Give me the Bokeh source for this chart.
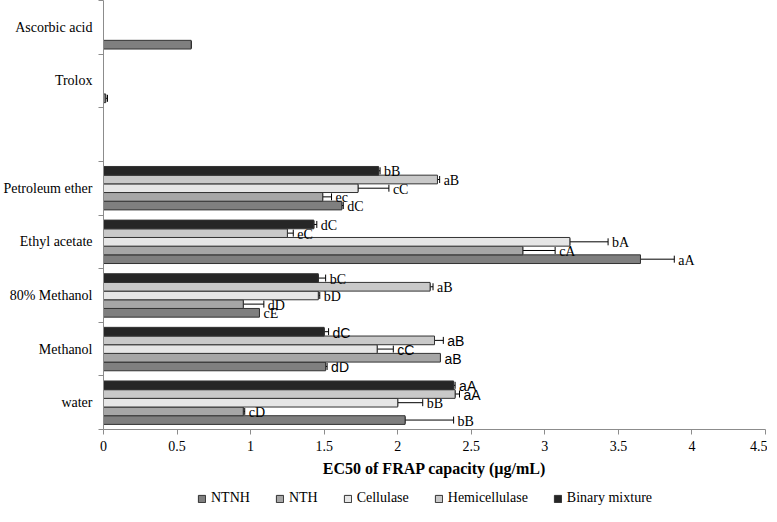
import numpy as np
from bokeh.plotting import figure
from bokeh.layouts import column
from bokeh.models import (ColumnDataSource, FixedTicker, Whisker, TeeHead, Legend,
                          LegendItem, Range1d, NumeralTickFormatter)
from bokeh.embed import file_html
from bokeh.resources import INLINE
from bokeh.core.properties import value

# ---------------- data ----------------
categories = ["water", "Methanol", "80% Methanol", "Ethyl acetate", "Petroleum ether",
              "", "Trolox", "Ascorbic acid"]
extracts = ["water", "Methanol", "80% Methanol", "Ethyl acetate", "Petroleum ether"]
series = ["NTNH", "NTH", "Cellulase", "Hemicellulase", "Binary mixture"]

ntnh = [2.05, 1.51, 1.06, 3.65, 1.62]
ntnh_err = [0.33, 0.01, 0.0, 0.23, 0.01]
nth = [0.95, 2.29, 0.95, 2.85, 1.49]
nth_err = [0.01, 0.0, 0.14, 0.22, 0.06]
cellulase = [2.00, 1.86, 1.46, 3.17, 1.73]
cellulase_err = [0.17, 0.11, 0.01, 0.26, 0.21]
hemicellulase = [2.39, 2.25, 2.22, 1.25, 2.27]
hemicellulase_err = [0.03, 0.06, 0.02, 0.04, 0.015]
binary = [2.38, 1.50, 1.46, 1.43, 1.87]
binary_err = [0.01, 0.03, 0.05, 0.02, 0.01]

ntnh_lab = ["bB", "dD", "cE", "aA", "dC"]
nth_lab = ["cD", "aB", "dD", "cA", "ec"]
cellulase_lab = ["bB", "cC", "bD", "bA", "cC"]
hemicellulase_lab = ["aA", "aB", "aB", "eC", "aB"]
binary_lab = ["aA", "dC", "bC", "dC", "bB"]

standards = ["Trolox", "Ascorbic acid"]
standard_values = [0.015, 0.596]
standard_err = [0.012, 0.0]

x_ticks = [0, 0.5, 1, 1.5, 2, 2.5, 3, 3.5, 4, 4.5]

# ---------------- styles ----------------
colors = ["#7f7f7f", "#a6a6a6", "#e6e6e6", "#c9c9c9", "#262626"]
offsets = [-0.324, -0.162, 0.0, 0.162, 0.324]
bar_h = 0.162
# labels that appear in a sans-serif face in the reference (extract, series)
sans_labels = {("water", "Hemicellulase"), ("water", "Binary mixture"),
               ("Methanol", "NTNH"), ("Methanol", "NTH"), ("Methanol", "Cellulase"),
               ("Methanol", "Hemicellulase"), ("Methanol", "Binary mixture")}

SERIF = "Liberation Serif"
SANS = "Liberation Sans"
W = 767

p = figure(width=W, height=479, output_backend="svg", toolbar_location=None,
           x_range=Range1d(0, 4.5), y_range=Range1d(0, len(categories)),
           min_border_left=0, min_border_right=2, min_border_top=0, min_border_bottom=0)
p.outline_line_color = None
p.xgrid.visible = False
p.ygrid.visible = False

lg = figure(width=W, height=27, output_backend="svg", toolbar_location=None,
            x_axis_location=None, y_axis_location=None,
            min_border_left=0, min_border_right=0, min_border_top=0, min_border_bottom=0)
lg.outline_line_color = None
lg.xgrid.visible = False
lg.ygrid.visible = False

vals = [ntnh, nth, cellulase, hemicellulase, binary]
errs = [ntnh_err, nth_err, cellulase_err, hemicellulase_err, binary_err]
labs = [ntnh_lab, nth_lab, cellulase_lab, hemicellulase_lab, binary_lab]

legend_items = []
cat_index = {c: i for i, c in enumerate(categories)}
for s, name in enumerate(series):
    ys = np.array([cat_index[c] + 0.5 + offsets[s] for c in extracts])
    v = np.array(vals[s])
    e = np.array(errs[s])
    src = ColumnDataSource(dict(y=ys, v=v, up=v + e))
    p.hbar(y="y", right="v", left=0, height=bar_h, source=src,
           fill_color=colors[s], line_color="#333333", line_width=1)
    # legend swatch renderer in the legend strip (hidden, only its key is shown)
    rl = lg.hbar(y="y", right="v", left=0, height=bar_h, source=src,
                 fill_color=colors[s], line_color="#333333", line_width=1, visible=False)
    legend_items.append(LegendItem(label=name, renderers=[rl]))
    p.add_layout(Whisker(base="y", lower="v", upper="up", dimension="width", source=src,
                         line_color="black", line_width=1,
                         lower_head=TeeHead(size=7, line_color="black", line_width=1),
                         upper_head=TeeHead(size=7, line_color="black", line_width=1)))
    is_sans = [(c, name) in sans_labels for c in extracts]
    for want_sans, font in ((False, SERIF), (True, SANS)):
        idx = [i for i, f in enumerate(is_sans) if f == want_sans]
        if not idx:
            continue
        tsrc = ColumnDataSource(dict(x=(v + e)[idx], y=ys[idx],
                                     t=[labs[s][i] for i in idx]))
        p.text(x="x", y="y", text="t", source=tsrc, x_offset=4, y_offset=1,
               text_font=value(font), text_font_size="14px", text_color="black",
               text_align="left", text_baseline="middle")

# standards (NTNH position)
sy = np.array([cat_index[c] + 0.5 + offsets[0] for c in standards])
sv = np.array(standard_values)
se = np.array(standard_err)
ssrc = ColumnDataSource(dict(y=sy, v=sv, up=sv + se))
p.hbar(y="y", right="v", left=0, height=bar_h, source=ssrc,
       fill_color=colors[0], line_color="#333333", line_width=1)
p.add_layout(Whisker(base="y", lower="v", upper="up", dimension="width", source=ssrc,
                     line_color="black", line_width=1,
                     lower_head=TeeHead(size=7, line_color="black", line_width=1),
                     upper_head=TeeHead(size=7, line_color="black", line_width=1)))

# ---------------- axes ----------------
xa = p.xaxis[0]
xa.ticker = FixedTicker(ticks=x_ticks, minor_ticks=[])
xa.formatter = NumeralTickFormatter(format="0.[0]")
xa.major_tick_out = 5
xa.major_tick_in = 0
xa.axis_line_color = "#8c8c8c"
xa.major_tick_line_color = "#8c8c8c"
xa.major_label_text_font = SERIF
xa.major_label_text_font_size = "14px"
xa.major_label_text_color = "black"
xa.major_label_standoff = 6
xa.axis_label = "EC50 of FRAP capacity (µg/mL)"
xa.axis_label_text_font = SERIF
xa.axis_label_text_font_style = "bold"
xa.axis_label_text_font_size = "16px"
xa.axis_label_text_color = "black"
xa.axis_label_standoff = 6

ya = p.yaxis[0]
centers = [i + 0.5 for i in range(len(categories))]
ya.ticker = FixedTicker(ticks=centers, minor_ticks=list(range(len(categories) + 1)))
ya.major_label_overrides = {c: lab for c, lab in zip(centers, categories)}
ya.major_tick_out = 0
ya.major_tick_in = 0
ya.minor_tick_out = 5
ya.minor_tick_in = 0
ya.minor_tick_line_color = "#8c8c8c"
ya.axis_line_color = "#8c8c8c"
ya.major_label_text_font = SERIF
ya.major_label_text_font_size = "14px"
ya.major_label_text_color = "black"
ya.major_label_standoff = 6

# ---------------- legend (own strip below the chart) ----------------
legend = Legend(items=legend_items, orientation="horizontal", location=(94, 0),
                label_text_font=SERIF, label_text_font_size="14px",
                label_text_color="black", glyph_width=9, glyph_height=9,
                label_height=14, label_standoff=5, spacing=25, padding=0, margin=0,
                inactive_fill_alpha=0,
                border_line_alpha=0, background_fill_alpha=0)
lg.add_layout(legend, "center")

layout = column(p, lg, spacing=0)
open("out.html", "w").write(file_html(layout, INLINE))
